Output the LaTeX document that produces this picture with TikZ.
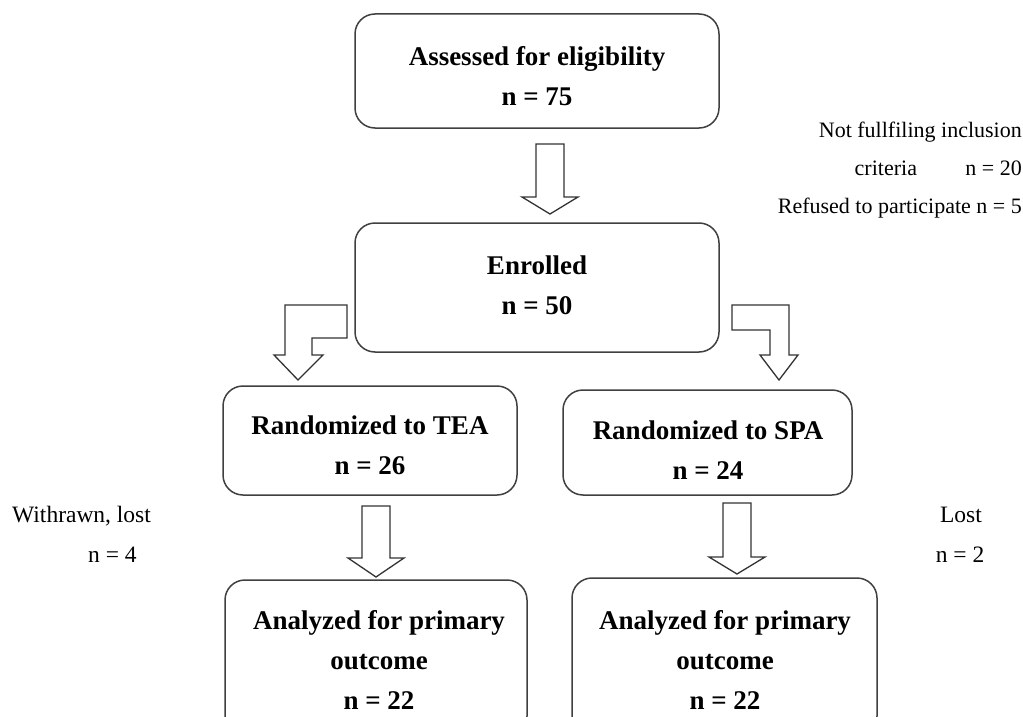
\documentclass[tikz,border=0pt]{standalone}
\usepackage{fontspec}
\setmainfont{Liberation Serif}
\usepackage{tikz}
\usepackage{xcolor}
\tikzset{
    rounded-box/.style = {draw=black!75, fill=white, line width=1.5pt, rectangle, rounded corners=20pt, inner sep=0pt},
    box-text/.style = {font=\fontsize{27}{40}\selectfont\bfseries, align=center, inner sep=0pt},
    side-note/.style = {font=\fontsize{22}{38}\selectfont, inner sep=0pt},
    block-arrow/.style = {draw=black!80, fill=white, line width=1.3pt, line join=miter},
}
\newcommand{\downblock}[4]{% centre x, top, start of head, tip
  \draw[block-arrow] (#1-14,#2) -- (#1+14,#2) -- (#1+14,#3) -- (#1+28,#3) -- (#1,#4) -- (#1-28,#3) -- (#1-14,#3) -- cycle;}

\begin{document}
\begin{tikzpicture}[x=1pt,y=-1pt]
\clip (0,0) rectangle (1023,717);
\fill[white] (0,0) rectangle (1023,717);

% boxes
\node[rounded-box, minimum width=364, minimum height=114] (assessed) at (537,71) {};
\node[box-text] (assessed-t) at (537,76) {Assessed for eligibility\\n = 75};

\node[rounded-box, minimum width=364, minimum height=129] (enrolled) at (537,287.5) {};
\node[box-text] (enrolled-t) at (537,285) {Enrolled\\n = 50};

\node[rounded-box, minimum width=294, minimum height=109] (tea) at (370,440.5) {};
\node[box-text] (tea-t) at (370,445) {Randomized to TEA\\n = 26};

\node[rounded-box, minimum width=289, minimum height=105] (spa) at (707.5,442.5) {};
\node[box-text] (spa-t) at (708,450) {Randomized to SPA\\n = 24};

\node[rounded-box, minimum width=302, minimum height=156] (ana-tea) at (376,658) {};
\node[box-text] (ana-tea-t) at (379,660) {Analyzed for primary\\outcome\\n = 22};

\node[rounded-box, minimum width=305, minimum height=158] (ana-spa) at (724.5,657) {};
\node[box-text] (ana-spa-t) at (725,660) {Analyzed for primary\\outcome\\n = 22};

% side notes
\node[side-note, align=right, anchor=east] (excluded) at (1022,170)
    {Not fullfiling inclusion\\criteria\hspace{2.2em}n = 20\\Refused to participate n = 5};
\node[side-note, font=\fontsize{23.5}{38}\selectfont, anchor=base west] (withdrawn) at (12,522) {Withrawn, lost};
\node[side-note, font=\fontsize{23.5}{38}\selectfont, anchor=base west] (withdrawn-n) at (88,562) {n = 4};
\node[side-note, font=\fontsize{23.5}{38}\selectfont, anchor=base] (lost) at (961,522) {Lost};
\node[side-note, font=\fontsize{23.5}{38}\selectfont, anchor=base] (lost-n) at (960,562) {n = 2};

% arrows
\downblock{550}{144}{197}{214}
\downblock{376}{506}{558}{577}
\downblock{737}{503}{557}{574}
\draw[block-arrow] (285,305) -- (347,305) -- (347,338) -- (312,338) -- (312,355) -- (323,355)
    -- (298,380) -- (274,355) -- (285,355) -- cycle;
\draw[block-arrow] (732,305) -- (789,305) -- (789,355) -- (798,355) -- (779,380) -- (760,355)
    -- (770,355) -- (770,330) -- (732,330) -- cycle;
\end{tikzpicture}
\end{document}
